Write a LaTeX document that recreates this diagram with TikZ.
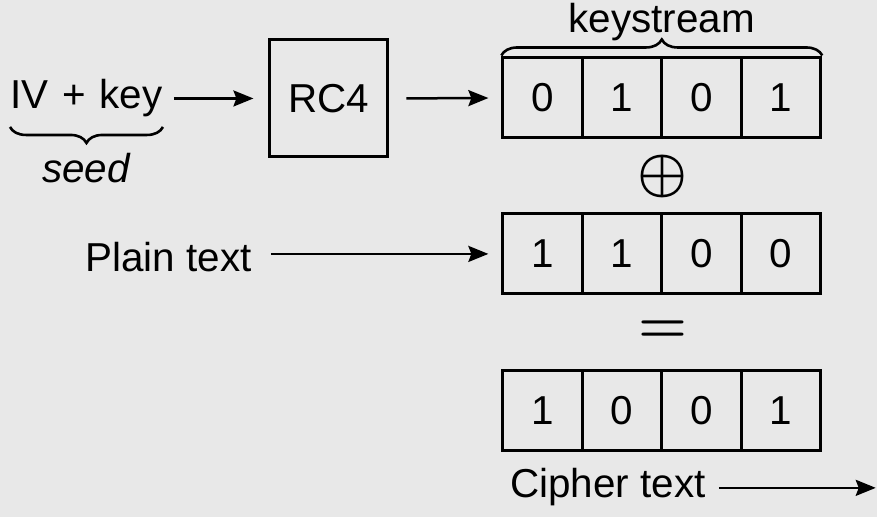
\RequirePackage{fix-cm}
\documentclass[tikz,border=0pt]{standalone}
\usepackage{fontspec}
\setmainfont{Liberation Sans}
\usetikzlibrary{arrows.meta,decorations.pathreplacing}

\definecolor{bggray}{RGB}{232,232,232}
\tikzset{
  bit/.style={draw, line width=1.5pt, minimum width=39.75pt, minimum height=40pt, inner sep=0pt},
  lbl/.style={inner sep=0pt},
  flow/.style={line width=1.25pt, -{Stealth[length=10pt,width=8pt,inset=1.5pt]}},
  brc/.style={decorate, decoration={brace, amplitude=8pt}, line width=1.3pt},
  op/.style={inner sep=0pt, font=\fontsize{28}{28}\selectfont\boldmath},
}

\begin{document}
\begin{tikzpicture}[x=0.5pt,y=-0.5pt,font=\fontsize{20.2}{24}\selectfont]
	\fill[bggray] (0,0) rectangle (877,517);
%
	\node[lbl,anchor=base west] (ivkey) at (10,109) {IV\hspace{0.34em}+\hspace{0.34em}key};
	\draw[brc,decoration={mirror}] (10,127) -- (163,127);
	\node[lbl,anchor=base] (seed) at (86,183) {\itshape seed};
	\node[draw,line width=1.5pt,minimum width=59pt,minimum height=58.5pt] (rc4) at (329,98.5) {RC4};
%
	\foreach \b [count=\i] in {0,1,0,1}
		\node[bit] (k\i) at ({463.25+79.5*\i},98) {\b};
	\foreach \b [count=\i] in {1,1,0,0}
		\node[bit] (p\i) at ({463.25+79.5*\i},254) {\b};
	\foreach \b [count=\i] in {1,0,0,1}
		\node[bit] (c\i) at ({463.25+79.5*\i},411) {\b};
%
	\draw[brc,decoration={raise=0.5pt}] (k1.north west) -- (k4.north east);
	\node[lbl,anchor=base] (keystream) at (662,33) {keystream};
	\node[op] (xor) at (663,177) {$\oplus$};
	\node[op] (eq) at (663,332) {$=$};
%
	\node[lbl,anchor=base east] (plain) at (252,272) {Plain text};
	\node[lbl,anchor=base west] (cipher) at (510,498) {Cipher text};
	\coordinate (out) at (876,488);
%
	\draw[flow,shorten <=5.5pt,shorten >=7.5pt] (ivkey.east |- rc4.west) -- (rc4.west);
	\draw[flow,shorten <=8.5pt,shorten >=6.5pt] (rc4.east) -- (k1.west);
	\draw[flow,shorten <=9.5pt,shorten >=6.5pt] (plain.east |- p1.west) -- (p1.west);
	\draw[flow,shorten <=6.5pt] (cipher.east |- out) -- (out);
\end{tikzpicture}
\end{document}
